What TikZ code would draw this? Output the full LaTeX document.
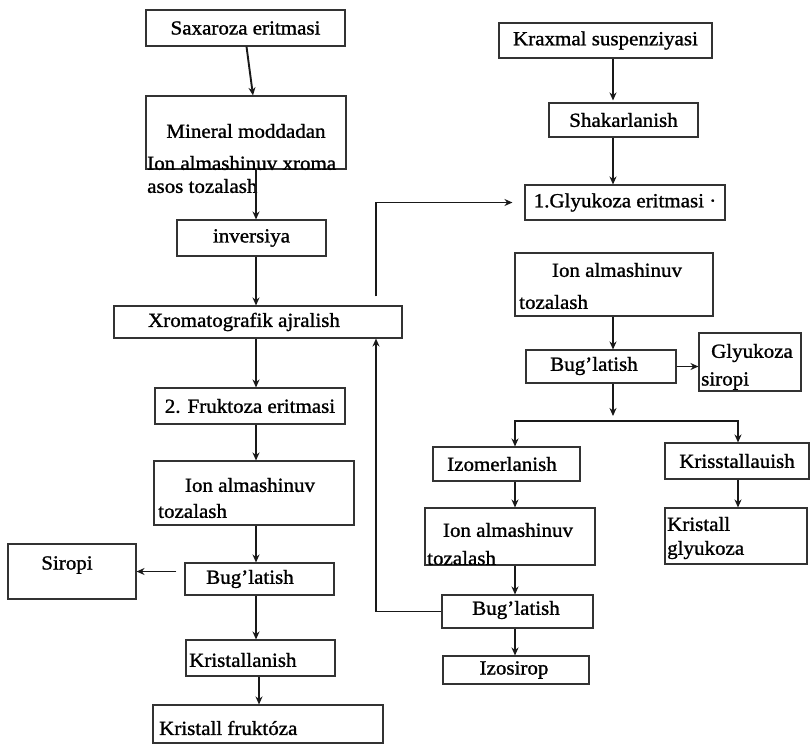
\documentclass[tikz,border=0pt]{standalone}
\usepackage{fontspec}
\setmainfont{Liberation Serif}[FakeStretch=1.05, FakeBold=1.2]
\usetikzlibrary{arrows.meta,calc}
\tikzset{
  box/.style={draw=black!80, line width=1.1pt, inner sep=0pt},
  sz/.style 2 args={minimum width=#1, minimum height=#2},
  txt/.style={inner sep=0pt},
  flow/.style={line width=1.9pt, draw=black!90, -{Stealth[length=8pt,width=7pt]}},
  link/.style={line width=1.4pt, draw=black!90, -{Stealth[length=8pt,width=7pt]}},
}
\begin{document}
\begin{tikzpicture}[x=1pt, y=-1pt, font=\fontsize{20}{24}\selectfont]
\useasboundingbox (0,0) rectangle (811,745);

% column guides for the vertical connectors
\coordinate (cL) at (256,0);
\coordinate (cM) at (376,0);
\coordinate (cR) at (613,0);
\coordinate (cA) at (515,0);
\coordinate (cB) at (738,0);
\coordinate (split) at (613,421);

% ---- sucrose / fructose line ----
\node[box, sz={199}{36}] (sax) at (245.5,28) {Saxaroza eritmasi};

\node[box, sz={200}{73}] (mineral) at (246,132.5) {};
\node[txt] (mineral-a) at (246,131) {Mineral moddadan};
\node[txt, anchor=west] (mineral-b) at (147,163) {Ion almashinuv xroma};
\node[txt, anchor=west] (mineral-c) at (147,186) {asos tozalash};

\node[box, sz={149}{36}] (inv) at (251.5,238) {inversiya};

\node[box, sz={288}{32}] (xrom) at (258,322) {};
\node[txt] (xrom-t) at (244,322) {Xromatografik ajralish};

\node[box, sz={190}{36}] (fru) at (250,406) {2. Fruktoza eritmasi};

\node[box, sz={200}{64}] (ion1) at (254,493) {};
\node[txt] (ion1-a) at (250,485) {Ion almashinuv};
\node[txt, anchor=west] (ion1-b) at (158,511) {tozalash};

\node[box, sz={149}{32}] (bug1) at (259.5,579) {};
\node[txt] (bug1-t) at (250,579) {Bug'latish};

\node[box, sz={128}{55}] (siropi) at (72,571.5) {};
\node[txt] (siropi-t) at (67,565) {Siropi};

\node[box, sz={149}{36}] (kri) at (260.5,658) {};
\node[txt, anchor=west] (kri-t) at (189,660) {Kristallanish};

\node[box, sz={230}{38}] (krf) at (268,724) {};
\node[txt, anchor=west] (krf-t) at (159,728) {Kristall fruktóza};

% ---- starch / glucose line ----
\node[box, sz={213}{35}] (krx) at (605.5,40.5) {Kraxmal suspenziyasi};
\node[box, sz={149}{34}] (sha) at (623.5,120) {Shakarlanish};
\node[box, sz={200}{35}] (glu1) at (625,202.5) {1.Glyukoza eritmasi ·};

\node[box, sz={198}{63}] (ion2) at (614,284.5) {};
\node[txt] (ion2-a) at (617,270) {Ion almashinuv};
\node[txt, anchor=west] (ion2-b) at (519,302) {tozalash};

\node[box, sz={150}{33}] (bug2) at (601,366.5) {};
\node[txt] (bug2-t) at (594,366) {Bug'latish};

\node[box, sz={102}{58}] (gsir) at (750,362) {};
\node[txt] (gsir-a) at (752,353) {Glyukoza};
\node[txt, anchor=west] (gsir-b) at (701,381) {siropi};

\node[box, sz={147}{34}] (izo) at (506.5,464) {};
\node[txt] (izo-t) at (502,464) {Izomerlanish};

\node[box, sz={170}{57}] (ion3) at (510,536.5) {};
\node[txt] (ion3-a) at (508,530) {Ion almashinuv};
\node[txt, anchor=west] (ion3-b) at (427,558) {tozalash};

\node[box, sz={151}{33}] (bug3) at (517.5,611.5) {};
\node[txt] (bug3-t) at (516,610) {Bug'latish};

\node[box, sz={146}{28}] (izs) at (516,670) {};
\node[txt] (izs-t) at (514,670) {Izosirop};

\node[box, sz={144}{36}] (kris) at (737,461) {Krisstallauish};

\node[box, sz={142}{56}] (krg) at (736,536) {};
\node[txt, anchor=west] (krg-a) at (667,524) {Kristall};
\node[txt, anchor=west] (krg-b) at (667,550) {glyukoza};

% ---- connectors, left line ----
\draw[flow] ([xshift=1pt]sax.south) -- ([xshift=7pt]mineral.north);
\draw[flow] (mineral.south -| cL) -- (inv.north -| cL);
\draw[flow] (inv.south -| cL) -- (xrom.north -| cL);
\draw[flow] (xrom.south -| cL) -- (fru.north -| cL);
\draw[flow] (fru.south -| cL) -- (ion1.north -| cL);
\draw[flow] (ion1.south -| cL) -- (bug1.north -| cL);
\draw[link, shorten <=8pt] (siropi.east -| bug1.west) -- (siropi.east);
\draw[flow] (bug1.south -| cL) -- (kri.north -| cL);
\draw[flow] ([xshift=3pt]kri.south -| cL) -- ([xshift=3pt]krf.north -| cL);

% ---- links between the two lines ----
\draw[link, shorten <=9pt, shorten >=12pt] (xrom.north -| cM) |- (glu1.west);
\draw[link] (bug3.west) -| (xrom.south -| cM);

% ---- connectors, right line ----
\draw[flow, shorten >=2pt] (krx.south -| cR) -- (sha.north -| cR);
\draw[flow] (sha.south -| cR) -- (glu1.north -| cR);
\draw[flow] (ion2.south -| cR) -- (bug2.north -| cR);
\draw[flow] (bug2.east) -- (bug2.east -| gsir.west);
\draw[flow, shorten >=5pt] (bug2.south -| cR) -- (split);
\draw[link] (split) -| (izo.north -| cA);
\draw[link] (split) -| (kris.north -| cB);
\draw[flow] (izo.south -| cA) -- (ion3.north -| cA);
\draw[flow] (ion3.south -| cA) -- (bug3.north -| cA);
\draw[flow] (bug3.south -| cA) -- (izs.north -| cA);
\draw[flow] (kris.south -| cB) -- (krg.north -| cB);
\end{tikzpicture}
\end{document}
